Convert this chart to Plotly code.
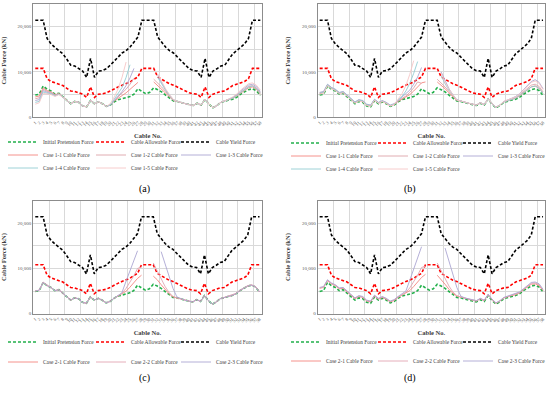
import plotly.graph_objects as go

# ---------------- data ----------------
cable_no = [str(i) for i in range(1, 59)]
cable_pos = list(range(58))

initial = [4900, 5100, 6900, 6200, 5800, 5100, 5300, 4500, 3700, 3000,
           3500, 3300, 2500, 2300, 3700, 3000, 3400, 3000, 2400, 2700,
           3400, 3900, 4100, 4300, 4600, 5100, 6300, 5700, 5200, 5500,
           6500, 6100, 5600, 4900, 4300, 3600, 3500, 3200, 3000, 2800,
           2600, 3100, 2700, 4000, 2900, 2100, 2600, 3300, 3600, 3800,
           4000, 4400, 5100, 5600, 6100, 6300, 5900, 4800]

allowable = [10800, 10800, 10800, 8500, 7900, 7600, 7300, 7000, 6400, 5800,
             5700, 5400, 5100, 4400, 6700, 4400, 5100, 5200, 5400, 5800,
             6300, 6700, 7100, 7400, 7800, 8400, 8900, 10800, 10800, 10800,
             10800, 8900, 8400, 7800, 7400, 7100, 6700, 6300, 5800, 5400,
             5200, 5100, 4400, 6700, 4400, 5100, 5400, 5700, 5800, 6400,
             7000, 7300, 7600, 7900, 8500, 10800, 10800, 10800]

yield_f = [21400, 21400, 21400, 17400, 16200, 15400, 14700, 14000, 12800, 11500,
           11300, 10700, 10200, 8800, 13000, 8800, 10200, 10300, 10700, 11500,
           12500, 13300, 14200, 14700, 15500, 16600, 17700, 21400, 21400, 21400,
           21400, 17700, 16600, 15500, 14700, 14200, 13300, 12500, 11500, 10700,
           10300, 10200, 8800, 13000, 8800, 10200, 10700, 11300, 11500, 12800,
           14000, 14700, 15400, 16200, 17400, 21400, 21400, 21400]

N = None
# Panel (a)
a_case11 = [4500, 4700, 6500, 5900, 5600, 5000, 5200, 4500, 3700, 3000,
            3500, 3300, 2500, 2300, 3700, 3000, 3400, 3000, 2400, 2700,
            3600, 4300, 4800, 5400, 6200, 7000, 7700, N, N, N,
            7800, 7000, 6300, 5400, 4500, 3700, 3500, 3200, 3000, 2800,
            2600, 3100, 2700, 4000, 2900, 2100, 2600, 3300, 3600, 3900,
            4200, 4700, 5400, 5900, 6500, 6700, 6200, 5100]
a_case12 = [4100, 4300, 6200, 5700, 5500, 4900, 5200, 4500, 3700, 3000,
            3500, 3300, 2500, 2300, 3700, 3000, 3400, 3000, 2400, 2700,
            3700, 4500, 5200, 6200, 7300, 8600, N, N, N, N,
            8400, 7600, 6700, 5700, 4700, 3800, 3500, 3200, 3000, 2800,
            2600, 3100, 2700, 4000, 2900, 2100, 2600, 3300, 3600, 3900,
            4300, 4900, 5600, 6200, 6800, 7000, 6500, 5400]
a_case13 = [3700, 3900, 5900, 5500, 5300, 4800, 5100, 4500, 3700, 3000,
            3500, 3300, 2500, 2300, 3700, 3000, 3400, 3000, 2400, 2700,
            3800, 4700, 5700, 7000, 8700, 10800, N, N, N, N,
            N, 9300, 7600, 6100, 4900, 3900, 3500, 3200, 3000, 2800,
            2600, 3100, 2700, 4000, 2900, 2100, 2600, 3300, 3600, 4000,
            4400, 5000, 5800, 6400, 7100, 7300, 6800, 5700]
a_case14 = [3300, 3500, 5600, 5300, 5200, 4700, 5100, 4500, 3700, 3000,
            3500, 3300, 2500, 2300, 3700, 3000, 3400, 3000, 2400, 2700,
            4000, 5100, 6600, 8800, 11600, N, N, N, N, N,
            N, 8800, 7300, 6000, 4800, 3800, 3500, 3200, 3000, 2800,
            2600, 3100, 2700, 4000, 2900, 2100, 2600, 3300, 3600, 3900,
            4200, 4800, 5500, 6100, 6700, 6900, 6400, 5300]
a_case15 = [2900, 3200, 5300, 5100, 5000, 4600, 5000, 4400, 3700, 3000,
            3500, 3300, 2500, 2300, 3700, 3000, 3400, 3000, 2400, 3000,
            4500, 6300, 8900, 12200, N, N, N, N, N, N,
            N, 9600, 7800, 6300, 5000, 3900, 3500, 3200, 3000, 2800,
            2600, 3100, 2700, 4000, 2900, 2100, 2600, 3300, 3600, 4000,
            4500, 5100, 6000, 6700, 7400, 7600, 7100, 6000]

# Panel (b)
b_case11 = [5200, 5400, 7100, 6400, 6000, 5300, 5500, 4700, 3900, 3200,
            3700, 3500, 2700, 2500, 3800, 3100, 3500, 3100, 2500, 2800,
            3500, 4000, 4400, 5000, 5800, 6800, 7600, 7800, N, N,
            7800, 7100, 6300, 5400, 4500, 3700, 3600, 3300, 3100, 2900,
            2700, 3200, 2800, 4100, 3000, 2200, 2700, 3400, 3700, 4000,
            4200, 4700, 5400, 6000, 6700, 6900, 6400, 5300]
b_case12 = [5400, 5600, 7200, 6500, 6100, 5400, 5600, 4800, 4000, 3300,
            3800, 3600, 2800, 2600, 3900, 3200, 3600, 3200, 2600, 2900,
            3600, 4200, 4700, 5500, 6500, 7800, 7500, N, N, N,
            8400, 7600, 6700, 5700, 4700, 3800, 3600, 3300, 3100, 2900,
            2700, 3200, 2800, 4100, 3000, 2200, 2700, 3400, 3700, 4100,
            4400, 4900, 5700, 6400, 7100, 7300, 6800, 5600]
b_case13 = [5500, 5700, 7300, 6600, 6200, 5500, 5700, 4900, 4100, 3400,
            3900, 3700, 2900, 2700, 4000, 3300, 3700, 3300, 2700, 3000,
            3700, 4400, 5100, 6000, 7300, 8900, 11000, N, N, N,
            N, 10000, 8000, 6300, 5000, 3900, 3600, 3300, 3100, 2900,
            2700, 3200, 2800, 4100, 3000, 2200, 2700, 3500, 3800, 4200,
            4600, 5200, 6100, 7000, 7900, 8300, 7700, 6300]
b_case14 = [5300, 5500, 7200, 6500, 6100, 5400, 5600, 4800, 4000, 3300,
            3800, 3600, 2800, 2600, 3900, 3200, 3600, 3200, 2600, 2900,
            3800, 4600, 5800, 7500, 9700, 12300, N, N, N, N,
            N, 9200, 7400, 6000, 4800, 3800, 3600, 3300, 3100, 2900,
            2700, 3200, 2800, 4100, 3000, 2200, 2700, 3400, 3700, 4000,
            4200, 4800, 5500, 6100, 6700, 6900, 6400, 5300]
b_case15 = [5100, 5300, 7000, 6300, 5900, 5200, 5400, 4600, 3800, 3100,
            3600, 3400, 2600, 2400, 3800, 3100, 3500, 3100, 2500, 2800,
            4000, 5200, 7000, 9500, 12500, N, N, N, N, N,
            N, 9700, 7700, 6200, 4900, 3800, 3600, 3300, 3100, 2900,
            2700, 3200, 2800, 4100, 3000, 2200, 2700, 3500, 3800, 4100,
            4500, 5100, 5900, 6800, 7700, 8000, 7500, 6100]

# Panel (c)
c_case21 = [5000, 5200, 6900, 6200, 5800, 5100, 5300, 4500, 3700, 3000,
            3500, 3300, 2500, 2300, 3700, 3000, 3400, 3000, 2400, 2700,
            3400, 3900, 4300, 4900, 5800, 6800, 7800, 8500, N, N,
            8300, 7500, 6400, 5300, 4400, 3700, 3500, 3200, 3000, 2800,
            2600, 3100, 2700, 4000, 2900, 2100, 2600, 3300, 3600, 3800,
            4000, 4400, 5100, 5600, 6100, 6300, 5900, 4800]
c_case22 = [5000, 5200, 7000, 6300, 5800, 5100, 5300, 4500, 3700, 3000,
            3500, 3300, 2500, 2300, 3700, 3000, 3400, 3000, 2400, 2700,
            3400, 3900, 4500, 5500, 6800, 8300, 10000, 10300, N, N,
            11200, 9400, 7600, 6000, 4700, 3800, 3500, 3200, 3000, 2800,
            2600, 3100, 2700, 4000, 2900, 2100, 2600, 3300, 3600, 3800,
            4100, 4500, 5200, 5700, 6200, 6400, 6000, 4900]
c_case23 = [5000, 5200, 6900, 6200, 5800, 5100, 5300, 4500, 3700, 3000,
            3500, 3300, 2500, 2300, 3700, 3000, 3400, 3000, 2400, 2700,
            3400, 4100, 4600, 7000, 9400, 11700, 13900, N, N, N,
            N, N, 13700, 11000, 8300, 5600, 3700, 3300, 3000, 2800,
            2600, 3100, 2700, 4000, 2900, 2100, 2600, 3300, 3600, 3800,
            4000, 4400, 5100, 5600, 6100, 6300, 5900, 4800]

# Panel (d)
d_case21 = [5600, 5800, 7300, 6600, 6200, 5500, 5600, 4800, 4000, 3300,
            3800, 3600, 2800, 2600, 3900, 3200, 3600, 3200, 2600, 2900,
            3600, 4100, 4500, 5100, 6000, 7000, 8000, 8700, N, N,
            8500, 7600, 6500, 5400, 4500, 3900, 3700, 3400, 3200, 3000,
            2800, 3300, 2900, 4200, 3100, 2300, 2800, 3500, 3800, 4000,
            4200, 4600, 5300, 5900, 6500, 6600, 6200, 5100]
d_case22 = [5700, 5900, 7400, 6700, 6300, 5600, 5700, 4900, 4100, 3400,
            3900, 3700, 2900, 2700, 4000, 3300, 3700, 3300, 2700, 3000,
            3700, 4200, 4700, 5700, 7000, 8500, 10200, 10500, N, N,
            11200, 9400, 7700, 6100, 4800, 4000, 3700, 3400, 3200, 3000,
            2800, 3300, 2900, 4200, 3100, 2300, 2800, 3500, 3800, 4100,
            4300, 4700, 5400, 6000, 6700, 6800, 6400, 5200]
d_case23 = [5800, 6000, 7500, 6800, 6400, 5700, 5800, 5000, 4200, 3500,
            4000, 3800, 3000, 2800, 4100, 3400, 3800, 3400, 2800, 3100,
            3800, 4400, 5000, 7400, 10000, 12400, 14800, N, N, N,
            N, N, 14500, 11600, 8700, 5800, 3900, 3500, 3300, 3100,
            2900, 3400, 3000, 4300, 3200, 2400, 2900, 3600, 3900, 4200,
            4400, 4800, 5500, 6200, 6900, 7000, 6600, 5400]

case1_names = ["Case 1-1 Cable Force", "Case 1-2 Cable Force", "Case 1-3 Cable Force",
               "Case 1-4 Cable Force", "Case 1-5 Cable Force"]
case2_names = ["Case 2-1 Cable Force", "Case 2-2 Cable Force", "Case 2-3 Cable Force"]
case1_colors = ["#F4877F", "#DDA3A8", "#ABA6D2", "#93CDD3", "#F6C6C6"]
case2_colors = ["#F4877F", "#E2A5B2", "#ABA6D2"]
captions = ["(a)", "(b)", "(c)", "(d)"]

# ---------------- layout helpers ----------------
W, H = 550, 393
FONT = "Liberation Serif"


def px(x):
    return x / W


def py(y):
    return 1 - y / H


panels = [
    dict(x0=33.3, x1=262.3, y0=4, y1=117.3, cases=[a_case11, a_case12, a_case13, a_case14, a_case15],
         names=case1_names, colors=case1_colors, cap=(137, 189),
         cols=[43, 131, 216], rows=[142, 155, 168]),
    dict(x0=317.7, x1=545.0, y0=4, y1=117.3, cases=[b_case11, b_case12, b_case13, b_case14, b_case15],
         names=case1_names, colors=case1_colors, cap=(418, 189),
         cols=[326, 413, 498], rows=[143, 156, 169]),
    dict(x0=33.3, x1=261.5, y0=200.5, y1=313.7, cases=[c_case21, c_case22, c_case23],
         names=case2_names, colors=case2_colors, cap=(137, 386),
         cols=[43, 131, 216], rows=[342, 362]),
    dict(x0=317.7, x1=545.0, y0=200.5, y1=313.7, cases=[d_case21, d_case22, d_case23],
         names=case2_names, colors=case2_colors, cap=(418, 386),
         cols=[326, 413, 498], rows=[342, 361]),
]

fig = go.Figure()
layout = dict(width=W, height=H, margin=dict(l=0, r=0, t=0, b=0, autoexpand=False),
              paper_bgcolor="white", plot_bgcolor="white", showlegend=True,
              font=dict(family=FONT, color="#404040"), annotations=[])

legend_count = [1]


def new_legend(text_x, row_y):
    legend_count[0] += 1
    lname = "legend" + str(legend_count[0])
    layout[lname] = dict(orientation="h", x=px(text_x - 40), y=py(row_y), xanchor="left",
                         yanchor="middle", bgcolor="rgba(0,0,0,0)", borderwidth=0,
                         font=dict(family=FONT, size=5.4, color="#404040"),
                         itemwidth=30)
    return lname


DASH = "3px,2px"
for p_i, p in enumerate(panels):
    sfx = "" if p_i == 0 else str(p_i + 1)
    xa, ya = "x" + sfx, "y" + sfx
    base = [("Initial Pretension Force", initial, "#22B04B"),
            ("Cable Allowable Force", allowable, "#FF0000"),
            ("Cable Yield Force", yield_f, "#000000")]
    for b_i, (name, vals, col) in enumerate(base):
        lg = new_legend(p["cols"][b_i], p["rows"][0])
        fig.add_trace(go.Scatter(x=cable_pos, y=vals, name=name, mode="lines",
                                 line=dict(color=col, width=1.6, dash=DASH),
                                 xaxis=xa, yaxis=ya, legend=lg))
    for c_i, (vals, name, col) in enumerate(zip(p["cases"], p["names"], p["colors"])):
        lg = new_legend(p["cols"][c_i % 3], p["rows"][1 + c_i // 3])
        fig.add_trace(go.Scatter(x=cable_pos, y=vals, name=name, mode="lines",
                                 line=dict(color=col, width=0.9),
                                 xaxis=xa, yaxis=ya, legend=lg))
    axis_line = "#8C8C8C"
    grid = "#D9D9D9"
    layout["xaxis" + sfx] = dict(
        domain=[px(p["x0"]), px(p["x1"])], anchor=ya, range=[-0.5, 57.5],
        tickmode="array", tickvals=cable_pos, ticktext=cable_no, tickangle=-45,
        tickfont=dict(family=FONT, size=4.6, color="#595959"), ticks="",
        showgrid=False, zeroline=False, showline=True, mirror=True,
        linecolor=axis_line, linewidth=1, automargin=False,
        minor=dict(tick0=3.5, dtick=4, showgrid=True, gridcolor=grid, gridwidth=1, ticks=""),
        title=dict(text="<b>Cable No.</b>", font=dict(family=FONT, size=6.5, color="#404040"),
                   standoff=7))
    layout["yaxis" + sfx] = dict(
        domain=[py(p["y1"]), py(p["y0"])], anchor=xa, range=[0, 25000],
        tickmode="linear", tick0=0, dtick=10000, tickformat=",d",
        tickfont=dict(family=FONT, size=5, color="#595959"), ticks="",
        showgrid=True, gridcolor=grid, gridwidth=1, zeroline=False,
        showline=True, mirror=True, linecolor=axis_line, linewidth=1, automargin=False,
        minor=dict(dtick=5000, showgrid=True, gridcolor=grid, gridwidth=1, ticks=""),
        title=dict(text="<b>Cable Force (kN)</b>", font=dict(family=FONT, size=6.5, color="#404040"),
                   standoff=10))
    layout["annotations"].append(dict(text=captions[p_i], x=px(p["cap"][0]), y=py(p["cap"][1]),
                                      xref="paper", yref="paper", showarrow=False,
                                      font=dict(family=FONT, size=10, color="#000000")))

fig.update_layout(**layout)
fig.write_html("out.html", config={"displayModeBar": False},
               post_script="document.body.style.margin='0px';document.body.style.overflow='hidden';")
